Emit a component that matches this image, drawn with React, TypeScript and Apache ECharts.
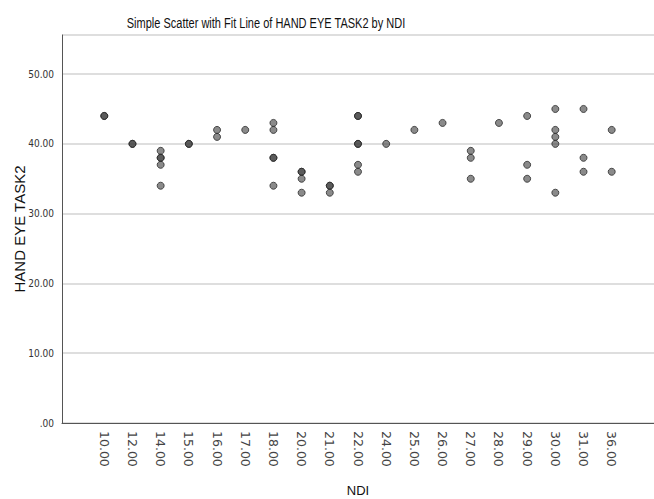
import React, { useEffect, useRef } from "react";
import * as echarts from "echarts";

const categories = ["10.00", "12.00", "14.00", "15.00", "16.00", "17.00", "18.00", "20.00", "21.00", "22.00", "24.00", "25.00", "26.00", "27.00", "28.00", "29.00", "30.00", "31.00", "36.00"];

// HAND EYE TASK2 values for each NDI category (repeated values = overlapping cases)
const values: number[][] = [
  [44, 44],
  [40, 40],
  [39, 38, 38, 37, 34],
  [40, 40],
  [42, 41],
  [42],
  [43, 42, 38, 38, 34],
  [36, 36, 35, 33],
  [34, 34, 33],
  [44, 44, 40, 40, 37, 36],
  [40],
  [42],
  [43],
  [39, 38, 35],
  [43],
  [44, 37, 35],
  [45, 42, 41, 40, 33],
  [45, 38, 36],
  [42, 36],
];

const yTicks = [0, 10, 20, 30, 40, 50];
const titleText = "Simple Scatter with Fit Line of HAND EYE TASK2 by NDI";

export default function App() {
  const ref = useRef<HTMLDivElement>(null);
  useEffect(() => {
    if (!ref.current) return;
    const chart = echarts.init(ref.current, null, { renderer: "svg" });
    const axisCats = ["", ...categories, ""];
    const points: [string, number][] = [];
    categories.forEach((c, i) => values[i].forEach((v) => points.push([c, v])));
    const narrow = "'Liberation Sans Narrow', 'DejaVu Sans Condensed', 'Roboto Condensed', 'Liberation Sans', Arial, sans-serif";
    chart.setOption({
      animation: false,
      backgroundColor: "#ffffff",
      graphic: [
        {
          type: "text",
          x: 266,
          y: 23,
          scaleX: 0.76,
          style: {
            text: titleText,
            fontFamily: "'Liberation Sans', Arial, sans-serif",
            fontSize: 14.5,
            fill: "#111",
            align: "center",
            verticalAlign: "middle",
          },
        },
      ],
      grid: { left: 62, right: 0, top: 35, bottom: 76, containLabel: false, outerBoundsMode: "none" },
      xAxis: {
        type: "category",
        data: axisCats,
        boundaryGap: true,
        name: "NDI",
        nameLocation: "middle",
        nameGap: 61,
        nameMoveOverlap: false,
        nameTextStyle: {
          fontFamily: "'Liberation Sans', Arial, sans-serif",
          fontSize: 13,
          color: "#111",
        },
        axisLine: { lineStyle: { color: "#555", width: 1 } },
        axisTick: { show: false },
        axisLabel: {
          rotate: -90,
          interval: 0,
          margin: 8,
          fontFamily: "'DejaVu Sans', sans-serif",
          fontSize: 12.5,
          color: "#444",
        },
        splitLine: { show: false },
      },
      yAxis: {
        type: "value",
        min: 0,
        max: 55.6,
        interval: 10,
        name: "HAND EYE TASK2",
        nameLocation: "middle",
        nameGap: 35,
        nameRotate: 90,
        nameMoveOverlap: false,
        nameTextStyle: {
          fontFamily: "'Liberation Sans', Arial, sans-serif",
          fontSize: 15,
          color: "#111",
        },
        axisLine: { show: true, lineStyle: { color: "#555", width: 1 } },
        axisTick: { show: false },
        axisLabel: {
          margin: 8,
          fontFamily: narrow,
          fontSize: 10,
          color: "#333",
          customValues: yTicks,
          formatter: (v: number) => (v === 0 ? ".00" : v.toFixed(2)),
        },
        splitLine: { show: true, lineStyle: { color: "#d3d3d3", width: 1.5 } },
      },
      series: [
        {
          type: "scatter",
          data: points,
          symbol: "circle",
          symbolSize: 7,
          itemStyle: {
            color: "rgba(60,60,60,0.75)",
            borderColor: "#2a2a2a",
            borderWidth: 1,
          },
        },
      ],
    });
    return () => chart.dispose();
  }, []);
  return <div ref={ref} style={{ width: 654, height: 499, position: "absolute", left: 0, top: 0 }} />;
}
